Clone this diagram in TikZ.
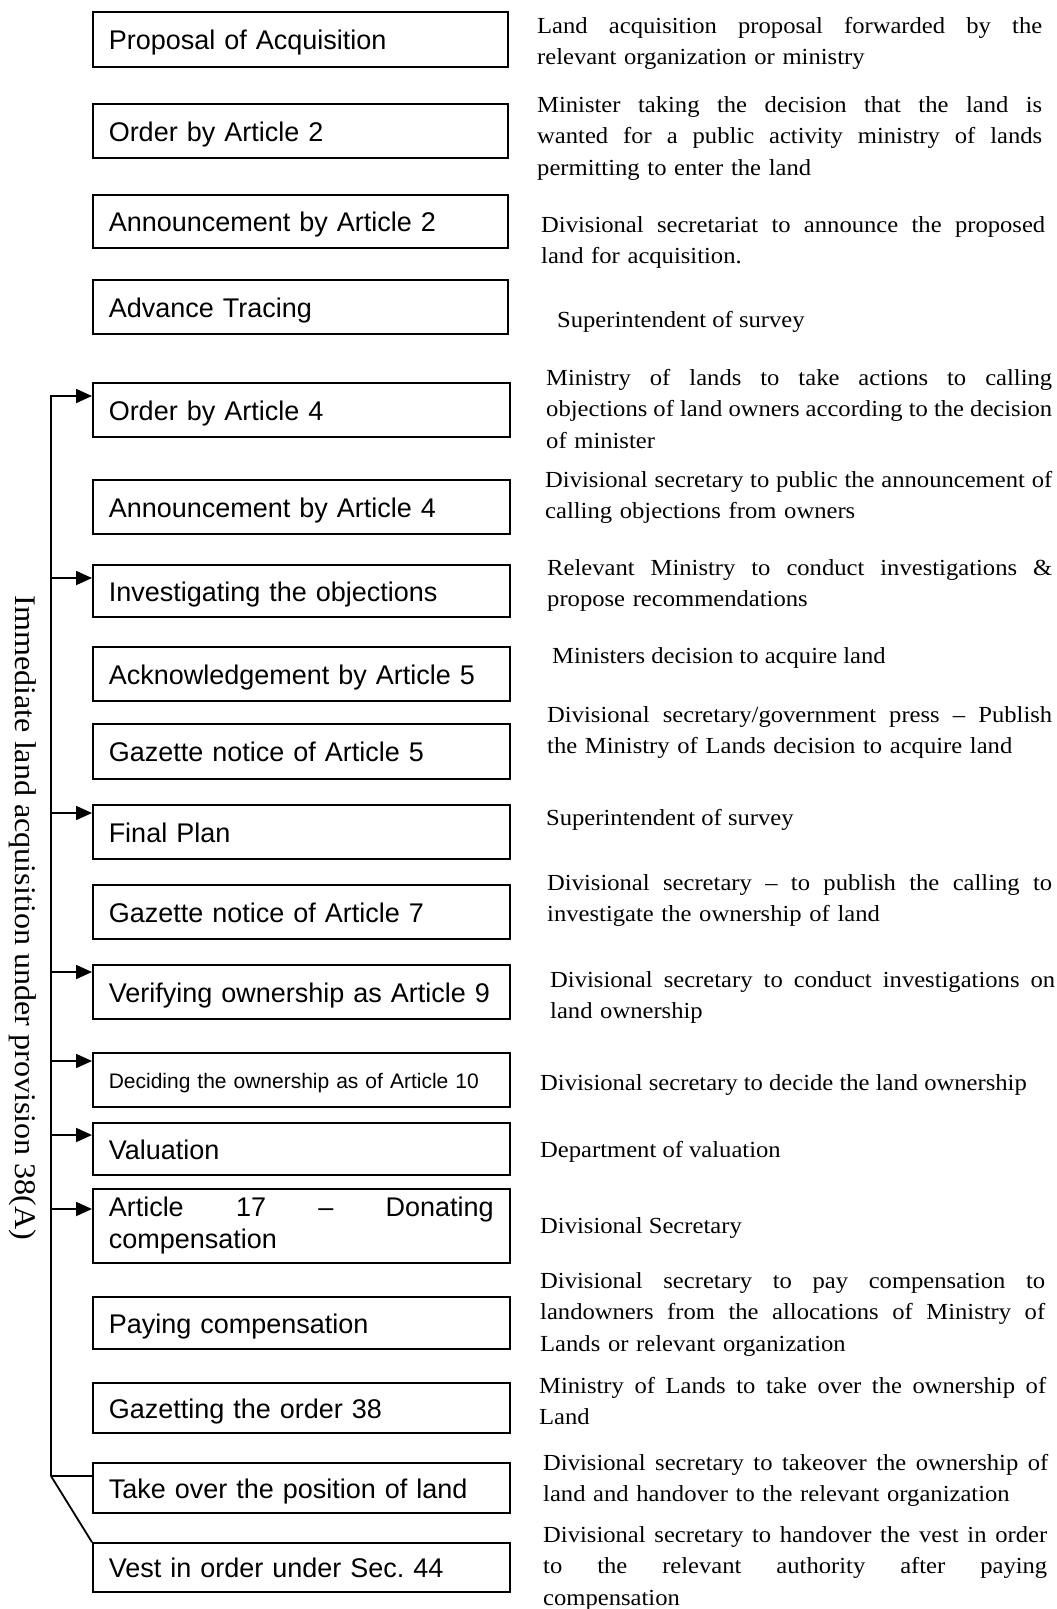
\documentclass[tikz,border=0pt]{standalone}
\usepackage{fontspec}
\setmainfont{Liberation Serif}
\newfontfamily\descfont{Liberation Serif}[FakeStretch=1.07]
\newfontfamily\boxfont{Liberation Sans}
\usetikzlibrary{arrows.meta}
% a line spread to the full paragraph width (word spaces made stretchable)
\newcommand{\jline}[1]{\makebox[\linewidth][s]{\spaceskip=.25em plus 1fil minus .05em\relax
  \xspaceskip=\spaceskip #1}}

\tikzset{
  stepbox/.style={draw, line width=1.5pt, anchor=west, inner xsep=16pt, inner ysep=0pt,
    text width=385pt, align=left, font=\boxfont\fontsize{27}{32}\selectfont},
  stepline/.style={stepbox, text height=24pt, text depth=4pt},
  desc/.style={anchor=base west, inner sep=0pt, align=left,
    font=\descfont\fontsize{23}{31.5}\selectfont},
  link/.style={line width=1.8pt},
  arr/.style={link, line join=miter, -{Triangle[length=16pt,width=14pt]}}
}

\begin{document}
\begin{tikzpicture}[x=1pt,y=-1pt]
\useasboundingbox (0,0) rectangle (1057,1609);

% process steps
\node[stepline, minimum height=55pt, text width=383pt] (n1) at (92,39.5) {Proposal of Acquisition};
\node[stepline, minimum height=54pt, text width=383pt] (n2) at (92,131) {Order by Article 2};
\node[stepline, minimum height=53pt, text width=383pt] (n3) at (92,221.5) {Announcement by Article 2};
\node[stepline, minimum height=54pt, text width=383pt] (n4) at (92,307) {Advance Tracing};
\node[stepline, minimum height=54pt] (n5) at (92,410) {Order by Article 4};
\node[stepline, minimum height=54pt] (n6) at (92,507) {Announcement by Article 4};
\node[stepline, minimum height=52pt] (n7) at (92,591) {Investigating the objections};
\node[stepline, minimum height=54pt] (n8) at (92,674) {Acknowledgement by Article 5};
\node[stepline, minimum height=55pt] (n9) at (92,751.5) {Gazette notice of Article 5};
\node[stepline, minimum height=54pt] (n10) at (92,832) {Final Plan};
\node[stepline, minimum height=54pt] (n11) at (92,912) {Gazette notice of Article 7};
\node[stepline, minimum height=54pt] (n12) at (92,992) {Verifying ownership as Article 9};
\node[stepbox, minimum height=54pt, text height=20pt, text depth=3pt,
  font=\boxfont\fontsize{21}{25}\selectfont] (n13) at (92,1080) {Deciding the ownership as of Article 10};
\node[stepline, minimum height=52pt] (n14) at (92,1149) {Valuation};
\node[stepbox, minimum height=74pt] (n15) at (92,1226) {\jline{Article 17 – Donating}\\compensation};
\node[stepline, minimum height=52pt] (n16) at (92,1323) {Paying compensation};
\node[stepline, minimum height=50pt] (n17) at (92,1408) {Gazetting the order 38};
\node[stepline, minimum height=50pt] (n18) at (92,1488) {Take over the position of land};
\node[stepline, minimum height=49pt] (n19) at (92,1567.5) {Vest in order under Sec.\ 44};

% responsible bodies
\node[desc, text width=505pt] (d1) at (537,33) {\jline{Land acquisition proposal forwarded by the}\\relevant organization or ministry};
\node[desc, text width=505pt] (d2) at (537,112) {\jline{Minister taking the decision that the land is}\\\jline{wanted for a public activity ministry of lands}\\permitting to enter the land};
\node[desc, text width=504pt] (d3) at (541,232) {\jline{Divisional secretariat to announce the proposed}\\land for acquisition.};
\node[desc] (d4) at (557,327) {Superintendent of survey};
\node[desc, text width=506pt] (d5) at (546,385) {\jline{Ministry of lands to take actions to calling}\\\jline{objections of land owners according to the decision}\\of minister};
\node[desc, text width=507pt] (d6) at (545,487) {\jline{Divisional secretary to public the announcement of}\\calling objections from owners};
\node[desc, text width=505pt] (d7) at (547,575) {\jline{Relevant Ministry to conduct investigations \&}\\propose recommendations};
\node[desc] (d8) at (552,663) {Ministers decision to acquire land};
\node[desc, text width=505pt] (d9) at (547,722) {\jline{Divisional secretary/government press – Publish}\\the Ministry of Lands decision to acquire land};
\node[desc] (d10) at (546,825) {Superintendent of survey};
\node[desc, text width=505pt] (d11) at (547,890) {\jline{Divisional secretary – to publish the calling to}\\investigate the ownership of land};
\node[desc, text width=505pt] (d12) at (550,987) {\jline{Divisional secretary to conduct investigations on}\\land ownership};
\node[desc] (d13) at (540,1090) {Divisional secretary to decide the land ownership};
\node[desc] (d14) at (540,1157) {Department of valuation};
\node[desc] (d15) at (540,1233) {Divisional Secretary};
\node[desc, text width=505pt] (d16) at (540,1288) {\jline{Divisional secretary to pay compensation to}\\\jline{landowners from the allocations of Ministry of}\\Lands or relevant organization};
\node[desc, text width=507pt] (d17) at (539,1393) {\jline{Ministry of Lands to take over the ownership of}\\Land};
\node[desc, text width=505pt] (d18) at (543,1470) {\jline{Divisional secretary to takeover the ownership of}\\land and handover to the relevant organization};
\node[desc, text width=504pt] (d19) at (543,1542) {\jline{Divisional secretary to handover the vest in order}\\\jline{to the relevant authority after paying}\\compensation};

% side label of the immediate procedure
\node[rotate=-90, inner sep=0pt, font=\descfont\fontsize{30}{36}\selectfont] (lab) at (23,918)
  {Immediate land acquisition under provision 38(A)};

% bracket with branches
\coordinate (a5) at (51,396);
\coordinate (a7) at (51,578);
\coordinate (a10) at (51,813);
\coordinate (a12) at (51,972);
\coordinate (a13) at (51,1061);
\coordinate (a14) at (51,1135);
\coordinate (a15) at (51,1209);
\coordinate (bot) at (51,1476);

\draw[arr] (bot) -- (a5) -- (a5 -| n5.west);
\draw[arr] (a7) -- (a7 -| n7.west);
\draw[arr] (a10) -- (a10 -| n10.west);
\draw[arr] (a12) -- (a12 -| n12.west);
\draw[arr] (a13) -- (a13 -| n13.west);
\draw[arr] (a14) -- (a14 -| n14.west);
\draw[arr] (a15) -- (a15 -| n15.west);
\draw[link] (bot) -- (bot -| n18.west);
\draw[link] (bot) -- (n19.north west);
\end{tikzpicture}
\end{document}
